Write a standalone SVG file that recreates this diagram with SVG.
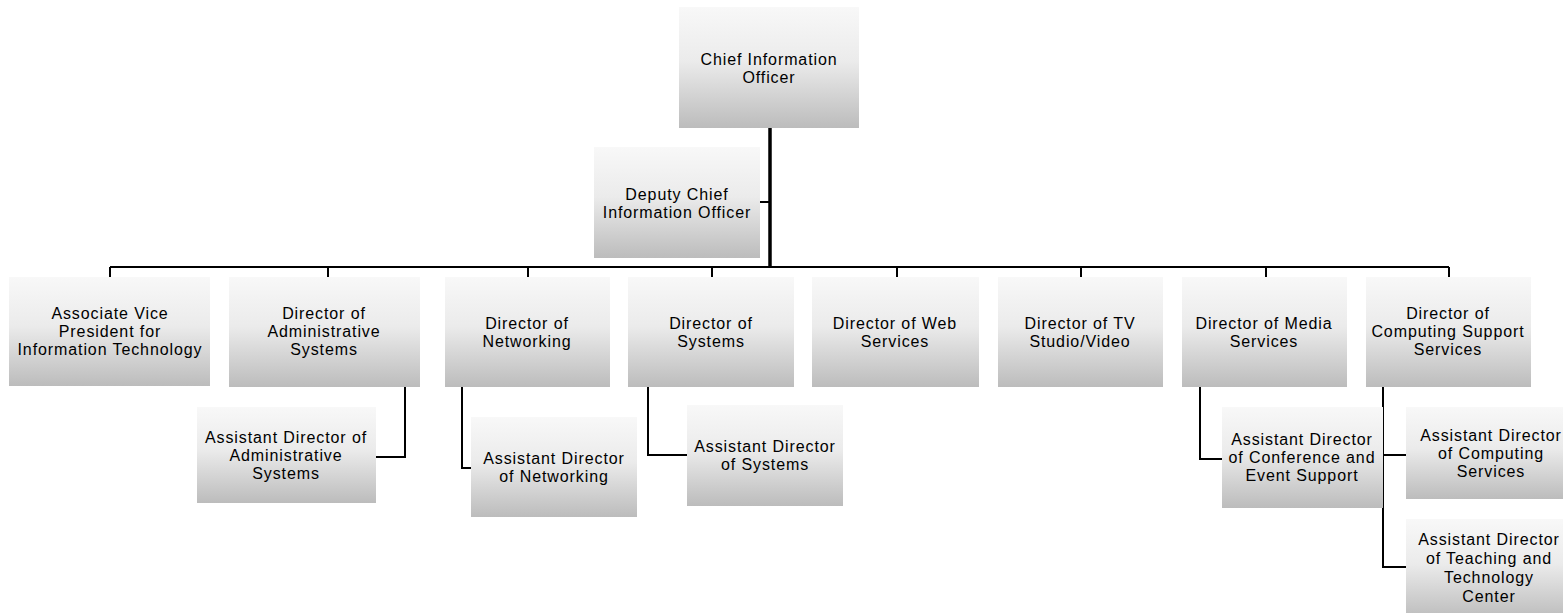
<svg xmlns="http://www.w3.org/2000/svg" width="1563" height="613" viewBox="0 0 1563 613">
<style>
.box{fill:url(#g);}
text{font-family:"Liberation Sans",Arial,sans-serif;font-size:16px;fill:#000;text-anchor:middle;letter-spacing:0.9px;}
.ln{stroke:#000;stroke-width:2;fill:none;}
.tr{stroke:#000;stroke-width:3.5;fill:none;}
</style>
<defs>
<linearGradient id="g" x1="0" y1="0" x2="0" y2="1">
<stop offset="0" stop-color="#f8f8f8"/>
<stop offset="0.45" stop-color="#ebebeb"/>
<stop offset="1" stop-color="#bcbcbc"/>
</linearGradient>
</defs>
<rect width="1563" height="613" fill="#fff"/>
<g id="connectors">
<path class="tr" d="M770 128V268"/>
<path class="ln" d="M760 202H770"/>
<path class="ln" d="M110 267H1449"/>
<path class="ln" d="M110 267V277M328 267V277M528 267V277M712 267V277M897 267V277M1081 267V277M1266 267V277M1449 267V277"/>
<path class="ln" d="M405 387V457H376"/>
<path class="ln" d="M462 387V468H471"/>
<path class="ln" d="M648 387V455H687"/>
<path class="ln" d="M1200 387V459H1222"/>
<path class="ln" d="M1383 387V567H1406M1383 455H1406"/>
</g>
<g id="cio"><rect class="box" x="679" y="7" width="180" height="121"/><text x="769" y="65">Chief Information</text><text x="769" y="83">Officer</text></g>
<g id="deputy"><rect class="box" x="594" y="147" width="166" height="111"/><text x="677" y="200">Deputy Chief</text><text x="677" y="218">Information Officer</text></g>
<g id="avp"><rect class="box" x="9" y="277" width="201" height="109"/><text x="110" y="319">Associate Vice</text><text x="110" y="337">President for</text><text x="110" y="355">Information Technology</text></g>
<g id="dadmin"><rect class="box" x="229" y="277" width="191" height="110"/><text x="324" y="319">Director of</text><text x="324" y="337">Administrative</text><text x="324" y="355">Systems</text></g>
<g id="dnet"><rect class="box" x="445" y="277" width="165" height="110"/><text x="527" y="329">Director of</text><text x="527" y="347">Networking</text></g>
<g id="dsys"><rect class="box" x="628" y="277" width="166" height="110"/><text x="711" y="329">Director of</text><text x="711" y="347">Systems</text></g>
<g id="dweb"><rect class="box" x="812" y="277" width="167" height="110"/><text x="895" y="329">Director of Web</text><text x="895" y="347">Services</text></g>
<g id="dtv"><rect class="box" x="998" y="277" width="165" height="110"/><text x="1080" y="329">Director of TV</text><text x="1080" y="347">Studio/Video</text></g>
<g id="dmedia"><rect class="box" x="1182" y="277" width="165" height="110"/><text x="1264" y="329">Director of Media</text><text x="1264" y="347">Services</text></g>
<g id="dcomp"><rect class="box" x="1366" y="277" width="165" height="110"/><text x="1448" y="319">Director of</text><text x="1448" y="337">Computing Support</text><text x="1448" y="355">Services</text></g>
<g id="aadmin"><rect class="box" x="197" y="407" width="179" height="96"/><text x="286" y="443">Assistant Director of</text><text x="286" y="461">Administrative</text><text x="286" y="479">Systems</text></g>
<g id="anet"><rect class="box" x="471" y="417" width="166" height="100"/><text x="554" y="464">Assistant Director</text><text x="554" y="482">of Networking</text></g>
<g id="asys"><rect class="box" x="687" y="405" width="156" height="101"/><text x="765" y="452">Assistant Director</text><text x="765" y="470">of Systems</text></g>
<g id="aconf"><rect class="box" x="1222" y="407" width="161" height="101"/><text x="1302" y="445">Assistant Director</text><text x="1302" y="463">of Conference and</text><text x="1302" y="481">Event Support</text></g>
<g id="acomp"><rect class="box" x="1406" y="407" width="170" height="92"/><text x="1491" y="441">Assistant Director</text><text x="1491" y="459">of Computing</text><text x="1491" y="477">Services</text></g>
<g id="ateach"><rect class="box" x="1406" y="519" width="166" height="100"/><text x="1489" y="545">Assistant Director</text><text x="1489" y="564">of Teaching and</text><text x="1489" y="583">Technology</text><text x="1489" y="602">Center</text></g>
</svg>
